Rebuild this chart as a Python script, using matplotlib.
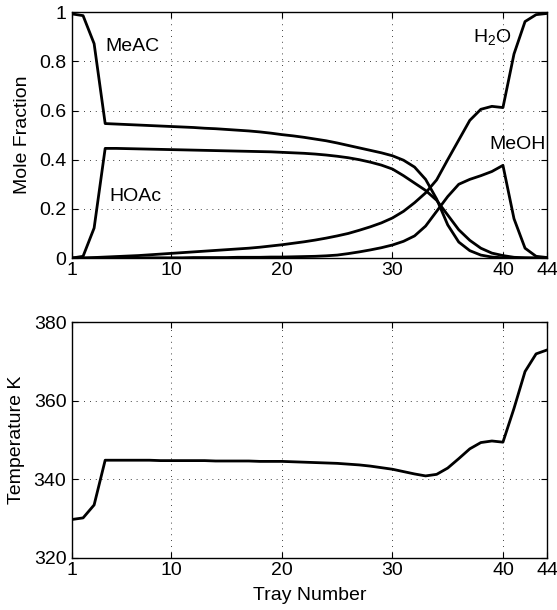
import matplotlib.pyplot as plt
import numpy as np

plt.rcParams['font.family'] = ['Liberation Sans', 'DejaVu Sans']
plt.rcParams['font.size'] = 14
plt.rcParams['mathtext.fontset'] = 'custom'
plt.rcParams['mathtext.rm'] = 'Liberation Sans'

trays = np.arange(1, 45)

meac = [0.993, 0.986, 0.872, 0.547, 0.545, 0.543, 0.541, 0.539, 0.537, 0.535,
        0.533, 0.531, 0.528, 0.526, 0.523, 0.520, 0.517, 0.513, 0.508, 0.502,
        0.497, 0.491, 0.484, 0.477, 0.468, 0.458, 0.448, 0.438, 0.428, 0.416,
        0.398, 0.370, 0.320, 0.240, 0.135, 0.065, 0.030, 0.012, 0.004, 0.001,
        0.0, 0.0, 0.0, 0.0]
hoac = [0.0, 0.007, 0.122, 0.446, 0.446, 0.445, 0.444, 0.443, 0.442, 0.441,
        0.440, 0.439, 0.438, 0.437, 0.436, 0.435, 0.434, 0.433, 0.432, 0.430,
        0.428, 0.426, 0.423, 0.419, 0.414, 0.408, 0.400, 0.390, 0.378, 0.362,
        0.335, 0.305, 0.275, 0.235, 0.175, 0.115, 0.072, 0.040, 0.020, 0.010,
        0.003, 0.001, 0.0, 0.0]
h2o = [0.0, 0.0, 0.002, 0.004, 0.006, 0.008, 0.010, 0.013, 0.016, 0.019,
       0.022, 0.025, 0.028, 0.031, 0.034, 0.037, 0.040, 0.044, 0.049, 0.054,
       0.060, 0.066, 0.073, 0.081, 0.090, 0.100, 0.113, 0.127, 0.143, 0.163,
       0.190, 0.225, 0.265, 0.318, 0.400, 0.480, 0.560, 0.605, 0.617, 0.612,
       0.830, 0.962, 0.990, 0.995]
meoh = [0.0, 0.0, 0.0, 0.0, 0.0, 0.0, 0.0, 0.001, 0.001, 0.001,
        0.001, 0.002, 0.002, 0.002, 0.002, 0.003, 0.003, 0.003, 0.004, 0.004,
        0.005, 0.006, 0.007, 0.009, 0.012, 0.018, 0.025, 0.033, 0.042, 0.053,
        0.068, 0.090, 0.130, 0.190, 0.250, 0.300, 0.320, 0.335, 0.352, 0.377,
        0.160, 0.040, 0.007, 0.002]

temp = [329.7, 330.1, 333.4, 344.8, 344.8, 344.8, 344.8, 344.8, 344.7, 344.7,
        344.7, 344.7, 344.7, 344.6, 344.6, 344.6, 344.6, 344.5, 344.5, 344.5,
        344.4, 344.3, 344.2, 344.1, 344.0, 343.8, 343.6, 343.3, 342.9, 342.5,
        341.9, 341.3, 340.8, 341.2, 342.8, 345.2, 347.7, 349.3, 349.7, 349.4,
        358.0, 367.4, 371.9, 372.9]

xticks = [1, 10, 20, 30, 40, 44]

fig = plt.figure(figsize=(5.57, 6.1), dpi=100)
ax1 = fig.add_axes([0.1293, 0.577, 0.853, 0.403])
ax2 = fig.add_axes([0.1293, 0.086, 0.853, 0.386])

for y in (meac, hoac, h2o, meoh):
    ax1.plot(trays, y, 'k-', lw=2.0)
ax1.set_xlim(1, 44)
ax1.set_ylim(0, 1)
ax1.set_yticks([0, 0.2, 0.4, 0.6, 0.8, 1])
ax1.set_yticklabels(['0', '0.2', '0.4', '0.6', '0.8', '1'])
ax1.set_ylabel('Mole Fraction', labelpad=6)
ax1.text(4.0, 0.86, 'MeAC', va='center')
ax1.text(4.35, 0.25, 'HOAc', va='center')
ax1.text(37.3, 0.895, 'H$_2$O', va='center')
ax1.text(38.8, 0.46, 'MeOH', va='center')

ax2.plot(trays, temp, 'k-', lw=2.0)
ax2.set_xlim(1, 44)
ax2.set_ylim(320, 380)
ax2.set_yticks([320, 340, 360, 380])
ax2.set_ylabel('Temperature K', labelpad=6)
ax2.set_xlabel('Tray Number', labelpad=6)

for ax in (ax1, ax2):
    ax.set_xticks(xticks)
    ax.grid(True, color='k', ls=(0, (1, 6)), lw=0.6)
    ax.tick_params(direction='in', top=True, right=True, length=4)
    ax.tick_params(axis='x', pad=3)
    ax.tick_params(axis='y', pad=4)
    for s in ax.spines.values():
        s.set_linewidth(1.0)

fig.savefig('out.png')
